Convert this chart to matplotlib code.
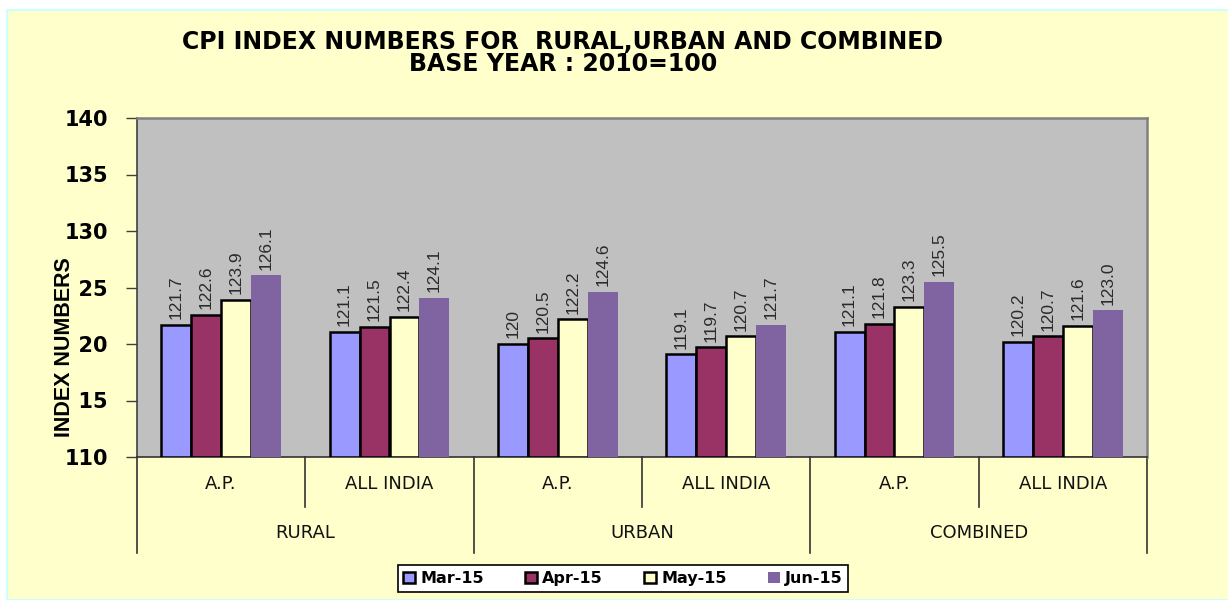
import matplotlib
matplotlib.use('Agg')
import matplotlib.pyplot as plt
import matplotlib.transforms as mtransforms
from matplotlib.patches import Rectangle
import numpy as np

regions = ['A.P.', 'ALL INDIA', 'A.P.', 'ALL INDIA', 'A.P.', 'ALL INDIA']
groups = ['RURAL', 'URBAN', 'COMBINED']
months = ['Mar-15', 'Apr-15', 'May-15', 'Jun-15']

mar15 = [121.7, 121.1, 120.0, 119.1, 121.1, 120.2]
apr15 = [122.6, 121.5, 120.5, 119.7, 121.8, 120.7]
may15 = [123.9, 122.4, 122.2, 120.7, 123.3, 121.6]
jun15 = [126.1, 124.1, 124.6, 121.7, 125.5, 123.0]

mar15_lbl = ['121.7', '121.1', '120', '119.1', '121.1', '120.2']
apr15_lbl = ['122.6', '121.5', '120.5', '119.7', '121.8', '120.7']
may15_lbl = ['123.9', '122.4', '122.2', '120.7', '123.3', '121.6']
jun15_lbl = ['126.1', '124.1', '124.6', '121.7', '125.5', '123.0']

series = [mar15, apr15, may15, jun15]
labels = [mar15_lbl, apr15_lbl, may15_lbl, jun15_lbl]
colors = ['#9999FF', '#993366', '#FFFFCC', '#8064A2']
edges = ['black', 'black', 'black', 'none']

W, H = 1228, 600
fig = plt.figure(figsize=(W / 100, H / 100), dpi=100, facecolor='white')
fig.patches.append(Rectangle((7 / W, 0), 1, 1 - 10 / H, transform=fig.transFigure,
                             facecolor='#FFFFCC', edgecolor='#CCFFFF', lw=1.5,
                             zorder=-10))

ax = fig.add_axes([137 / W, 1 - 457 / H, 1010 / W, 339 / H])
ax.set_facecolor('#C0C0C0')

x = np.arange(len(regions))
w = 0.178
for i, (vals, lbls) in enumerate(zip(series, labels)):
    pos = x + (i - 1.5) * w
    ax.bar(pos, np.array(vals) - 110, bottom=110, width=w, color=colors[i],
           edgecolor=edges[i], linewidth=1.8, label=months[i], zorder=3)
    for px, v, s in zip(pos, vals, lbls):
        ax.annotate(s, (px, v), xytext=(0, 4), textcoords='offset points',
                    rotation=90, ha='center', va='bottom', fontsize=12.5,
                    family='Liberation Sans', color='#2a2a2a', zorder=4)

ax.set_xlim(-0.5, len(regions) - 0.5)
ax.set_ylim(110, 140)
ax.set_yticks(range(110, 141, 5))
ax.set_yticklabels([str(t) for t in range(110, 141, 5)], fontsize=15,
                   fontweight='bold', family='DejaVu Sans')
ax.tick_params(axis='y', length=8, width=1, pad=13, color='#404040')
ax.set_xticks([])

for side in ['top', 'right']:
    ax.spines[side].set_color('#808080')
    ax.spines[side].set_linewidth(1.8)
ax.spines['left'].set_color('#404040')
ax.spines['bottom'].set_color('#333333')
ax.spines['left'].set_linewidth(1.2)
ax.spines['bottom'].set_linewidth(1.2)

# two level category axis below the plot
trans = mtransforms.blended_transform_factory(ax.transData, ax.transAxes)
for xi, name in zip(x, regions):
    ax.text(xi, -0.08, name, transform=trans, ha='center', va='center',
            fontsize=13, family='DejaVu Sans', color='#111111')
for gi, name in enumerate(groups):
    ax.text(2 * gi + 0.5, -0.224, name, transform=trans, ha='center',
            va='center', fontsize=13, family='DejaVu Sans', color='#111111')
for sx in [0.5, 2.5, 4.5]:
    ax.plot([sx, sx], [0, -0.148], transform=trans, color='#333333', lw=1.2,
            clip_on=False)
for sx in [-0.5, 1.5, 3.5, 5.5]:
    ax.plot([sx, sx], [0, -0.283], transform=trans, color='#333333', lw=1.2,
            clip_on=False)

fig.text(563 / W, 1 - 42 / H, 'CPI INDEX NUMBERS FOR  RURAL,URBAN AND COMBINED',
         ha='center', va='center', fontsize=17, fontweight='bold',
         family='DejaVu Sans')
fig.text(563 / W, 1 - 64 / H, 'BASE YEAR : 2010=100', ha='center', va='center',
         fontsize=17, fontweight='bold', family='DejaVu Sans')

fig.text(64 / W, 1 - 347 / H, 'INDEX NUMBERS', rotation=90, ha='center',
         va='center', fontsize=15.5, fontweight='bold', family='Liberation Sans',
         bbox=dict(facecolor='#FFFFCC', edgecolor='none', pad=3), zorder=10)

leg = fig.legend(loc='center', bbox_to_anchor=(623 / W, 1 - 578.5 / H), ncol=4,
                 frameon=True, fancybox=False, edgecolor='black',
                 facecolor='white', framealpha=1, handlelength=0.75,
                 handleheight=0.75, handletextpad=0.3, columnspacing=2.6,
                 borderpad=0.35, prop={'family': 'DejaVu Sans', 'weight': 'bold',
                                       'size': 11.5})
leg.get_frame().set_linewidth(1.2)

fig.savefig('out.png', dpi=100, facecolor=fig.get_facecolor())
